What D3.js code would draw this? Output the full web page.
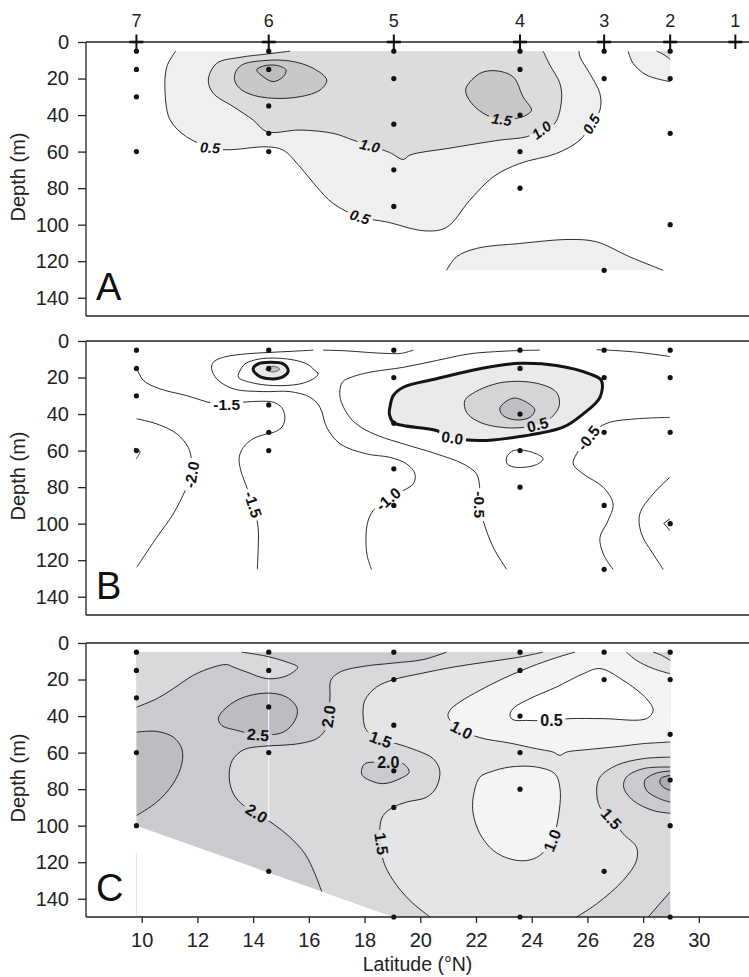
<!DOCTYPE html>
<html><head><meta charset="utf-8">
<script src="https://cdn.jsdelivr.net/npm/d3@7"></script>
<style>
html,body{margin:0;padding:0;background:#fff;}
svg{display:block;font-family:"Liberation Sans",Arial,Helvetica,sans-serif;}
</style></head><body>
<svg id="chart" width="749" height="977"></svg>
<script>
// ---------- stations, ticks, sample depths ----------
const stationNames = ["7","6","5","4","3","2","1"];
const stationLat = [9.81, 14.56, 19.05, 23.58, 26.6, 28.97, 31.31];
const latTicks = [10,12,14,16,18,20,22,24,26,28,30];
const depthTicks = [0,20,40,60,80,100,120,140];
const depthsA = [[5,15,30,60],[5,15,35,50,60],[5,20,45,70,90],[5,15,40,60,80],[5,20,125],[5,20,50,100],[]];
const depthsB = [[5,15,30,60],[5,15,35,50,60],[5,20,45,70,90],[5,15,40,60,80],[5,20,50,90,125],[5,20,50,100],[]];
const depthsC = [[5,15,30,60,100],[5,15,35,60,125],[5,20,45,70,90,150],[5,15,40,60,80,150],[5,20,125],[5,20,50,75,100,150],[]];

// ---------- panel A contours [lat, depth] ----------
const aC05 = [[11.22,5],[10.90,13.5],[10.84,28.1],[11.02,42.7],[11.61,51.9],[12.45,57.6],[13.05,59.0],[14.49,57.4],[15.08,59.2],[15.68,68.3],[16.28,79.3],[16.87,88.4],[17.83,95.8],[18.79,98.5],[20.17,103.4],[20.94,101.5],[21.78,86.6],[22.62,73.8],[23.57,66.5],[24.89,61.0],[25.73,53.7],[26.14,44.9],[26.45,37.3],[26.45,28.3],[26.08,17.2],[25.73,8.1],[25.70,5]];
const aC10 = [[15.33,5],[14.49,6.6],[13.53,8.4],[12.69,11.7],[12.39,20.8],[12.57,28.1],[13.29,35.4],[14.00,42.7],[14.49,49.1],[15.68,48.2],[16.87,50.0],[17.59,53.7],[18.19,56.8],[18.9,60.5],[19.39,64.3],[19.63,61.9],[21.06,58.1],[22.86,53.7],[23.81,51.9],[24.35,48.2],[24.83,44.5],[25.07,31.9],[25.01,22.6],[24.65,12.6],[24.41,5]];
const aC15east = [[21.66,24.5],[22.14,17.2],[22.68,15.7],[23.33,19.0],[23.69,30.0],[23.99,37.3],[23.81,40.0],[23.46,41.8],[22.92,42.4],[22.38,40.0],[21.90,34.5],[21.64,28.1]];
const aC15west = [[13.35,17.2],[13.59,12.6],[14.36,10.2],[15.32,10.4],[16.16,14.4],[16.64,20.8],[16.40,26.3],[15.44,30.5],[14.24,30.0],[13.59,26.3],[13.35,21.7]];
const aC20 = [[14.13,15.3],[14.36,13.2],[14.84,12.8],[15.18,15.3],[15.08,19.0],[14.72,21.7],[14.36,19.0]];
const aCorner05 = [[27.46,5],[27.64,11.7],[28.12,18.1],[28.97,21.7]];
const aCorner10 = [[28.48,5],[28.75,7.0],[28.97,9.5]];
const aDeep05 = [[20.94,125],[21.30,117.6],[22.02,113],[23.57,110.3],[25.37,108.1],[26.33,109.4],[27.52,117.6],[28.72,125]];
const labelsA = [
  {t:"0.5", at:[12.45,57.8], r:3},
  {t:"0.5", at:[17.83,95.8], r:18},
  {t:"1.0", at:[18.19,56.8], r:14},
  {t:"1.5", at:[22.92,42.4], r:8},
  {t:"1.0", at:[24.35,48.2], r:-38},
  {t:"0.5", at:[26.14,44.9], r:-60}
];

// ---------- panel B contours ----------
const bM20 = [[9.82,42.6],[10.54,45.4],[11.26,50.8],[11.67,58.2],[11.79,65.5],[11.79,73.2],[11.56,81.9],[11.13,94.7],[10.54,107.5],[9.82,123.9]];
const bHook = [[9.73,58.7],[9.94,60.4],[9.88,62.7],[9.80,64.5]];
const bM15 = [[9.82,14.7],[10.06,21.6],[10.66,26.2],[11.61,29.9],[12.57,34.2],[13.05,34.8],[13.65,33.5],[14.24,33.0],[14.72,33.5],[15.02,36.3],[15.14,41.7],[15.05,46.8],[14.80,49.6],[14.45,51.0],[14.0,53.5],[13.65,58.2],[13.50,63.7],[13.55,70.5],[13.72,78],[14.0,89.5],[14.18,102.3],[14.18,113.3],[14.15,125]];
const bM10a = [[16.16,5],[15.44,5.6],[14.54,6.3],[13.77,7.0],[12.93,8.9],[12.57,11.6],[12.51,15.2],[12.69,20.7],[13.29,26.2],[14.36,27.7],[15.32,27.7],[16.04,30.8],[16.40,36.3],[16.64,47.2],[17.12,56.3],[18.07,61.8],[18.91,63.7],[19.51,67.3],[19.81,72.8],[19.75,78.2],[19.39,81.9],[18.85,86.5],[18.3,93],[18.1,100],[18.05,110],[18.1,118],[18.25,125]];
const bM10b = [[16.52,5],[17.36,5.4],[18.07,6.2],[18.79,6.8],[19.3,6.8],[19.75,5]];
const bM05west = [[24.29,5],[23.57,5.2],[22.97,5.6],[21.78,7.0],[20.58,10.7],[19.39,14.4],[18.19,17.1],[17.59,19.5],[17.2,22.6],[17.12,30.8],[17.47,41.8],[17.9,47.5],[18.55,52.2],[19.39,56.3],[20.58,61.8],[21.54,67.3],[22.02,72.8],[22.14,81.9],[22.14,89.6],[22.26,98.4],[22.62,113.0],[23.10,125]];
const bM05ring = [[13.53,16.2],[13.71,12.5],[14.24,9.8],[15.20,9.8],[15.92,12.5],[16.22,16.2],[16.34,18.0],[16.16,20.7],[15.68,23.5],[14.72,24.4],[13.89,22.6],[13.47,19.8]];
const bZeroWest = [[14.0,15.2],[14.18,12.5],[14.6,11.6],[15.08,12.5],[15.26,16.2],[15.08,19.5],[14.6,20.7],[14.18,18.9]];
const bCoreWest = [[14.45,15.5],[14.6,14.0],[14.85,14.3],[14.95,15.5],[14.8,16.8],[14.55,16.6]];
const bZero = [[18.91,36.3],[19.03,29.9],[19.39,25.3],[20.58,20.7],[22.14,15.2],[23.57,12.2],[24.89,13.4],[26.08,18.0],[26.5,21.6],[26.45,30.8],[25.85,39.9],[25.13,47.2],[23.57,52.3],[22.14,54.5],[21.15,53.0],[20.58,49.0],[19.39,46.3],[19.03,44.5],[18.89,39.9]];
const b05 = [[21.60,32.6],[22.02,27.5],[22.97,22.6],[24.17,23.1],[24.89,28.1],[24.99,35.3],[24.71,41.8],[24.21,45.8],[23.22,47.6],[22.14,44.5],[21.66,39.0]];
const b10 = [[22.86,36.6],[23.33,31.3],[23.81,33.5],[24.11,37.7],[23.93,41.8],[23.45,43.2],[22.97,40.8]];
const bLoop60 = [[23.10,63.7],[23.28,60.5],[23.57,59.6],[24.17,61.8],[24.41,64.5],[24.17,67.7],[23.46,69.2],[23.12,67.3]];
const bM05east = [[28.96,41.8],[27.76,42.6],[26.80,44.5],[26.3,48.5],[26.03,53.1],[25.61,61.8],[25.49,67.3],[25.85,72.8],[26.57,80.1],[26.92,89.2],[26.74,98.4],[26.45,107.5],[26.57,116.6],[26.92,125]];
const bEast = [[28.96,74.6],[28.36,83.7],[27.88,94.7],[27.94,105.6],[28.36,116.6],[28.72,125]];
const bChevron = [[28.96,97.4],[28.74,99.8],[28.96,103.8]];
const bSurface = [[26.33,4.8],[26.6,4.9],[27.76,6.1],[28.96,8.5]];
const labelsB = [
  {t:"-1.5", at:[13.05,34.8], r:0},
  {t:"-2.0", at:[11.79,73.2], r:-80},
  {t:"-1.5", at:[14.0,89.5], r:72},
  {t:"-1.0", at:[18.85,86.5], r:-40},
  {t:"0.0", at:[21.15,53.0], r:8},
  {t:"0.5", at:[24.21,45.8], r:-14},
  {t:"-0.5", at:[22.14,89.6], r:90},
  {t:"-0.5", at:[26.03,53.1], r:-52}
];

// ---------- panel C contours ----------
const cDomain = [[9.81,5],[28.97,5],[28.97,150],[19.05,150],[9.81,100]];
const cTL20 = [[9.82,35.1],[10.54,30.5],[11.13,25.0],[11.85,17.7],[12.57,13.2],[13.05,11.8],[13.29,13.2],[13.77,15.9],[14.49,19.5],[15.08,18.6],[15.44,15.9],[15.60,13.2],[15.20,10.4],[14.49,7.3],[13.59,5]];
const cMain20 = [[20.94,5],[20.10,9.1],[19.03,11.0],[17.95,12.8],[17.12,15.9],[16.79,20.4],[16.76,29.6],[16.70,40.2],[16.58,47.8],[16.28,52.4],[15.68,55.0],[15.0,56.0],[14.3,56.6],[13.65,58.5],[13.25,64.3],[13.14,73.4],[13.29,82.5],[13.65,88.9],[14.13,93.2],[14.72,99.0],[15.32,106.3],[15.86,115.4],[16.22,126.4],[16.46,136.0]];
const c15west = [[24.41,5],[23.46,8.0],[22.38,10.4],[21.18,13.2],[19.99,16.8],[19.03,20.1],[18.43,24.1],[18.01,31.4],[17.95,40.5],[18.07,47.8],[18.58,52.8],[19.15,55.1],[19.87,58.8],[20.46,63.3],[20.70,69.8],[20.58,78.9],[20.23,84.4],[19.51,87.1],[19.03,89.9],[18.67,94.4],[18.55,100.8],[18.61,109.9],[18.67,119.1],[19.03,130.0],[19.63,141.0],[20.35,150]];
const c15east = [[25.61,150],[26.33,142.8],[27.28,130.0],[27.76,119.1],[27.76,111.8],[27.28,104.4],[26.86,96.2],[26.45,89.9],[26.33,80.7],[26.45,73.4],[27.04,67.0],[28.00,63.3],[28.97,62.5]];
const cIsland20 = [[17.89,69.8],[18.01,66.1],[18.43,65.2],[18.85,65.3],[19.39,66.1],[19.60,70.7],[19.27,74.3],[18.67,77.0],[18.19,75.2],[17.92,72.5]];
const c10 = [[25.55,5],[24.89,8.0],[23.93,13.2],[22.97,19.5],[22.14,25.9],[21.42,32.3],[21.06,36.9],[21.00,40.5],[21.48,47.5],[22.14,51.8],[23.22,54.8],[24.17,57.9],[24.77,59.7],[25.01,61.5],[25.25,59.7],[25.97,58.4],[27.16,56.6],[28.00,55.1],[28.97,54.2]];
const c05 = [[23.22,39.6],[23.33,35.9],[23.93,30.5],[24.89,24.1],[25.85,16.8],[26.45,14.0],[27.28,20.4],[28.12,30.5],[28.36,36.9],[28.12,41.4],[26.57,41.4],[25.37,41.4],[24.71,42.4],[23.81,42.4],[23.33,42.0]];
const c10loop = [[22.14,73.4],[22.50,70.7],[23.22,67.9],[24.17,67.9],[24.83,71.6],[25.01,78.9],[24.99,91.7],[24.73,108.1],[24.29,116.3],[23.81,119.1],[23.22,118.2],[22.62,113.6],[22.14,104.4],[21.90,93.5],[21.90,84.4]];
const c20east = [[28.97,67.9],[28.0,68.8],[27.40,73.4],[27.30,78.9],[27.64,86.2],[28.36,91.7],[28.97,93.2]];
const c25east = [[28.97,70.1],[28.48,71.2],[28.06,75.2],[28.12,80.7],[28.6,85.3],[28.97,87.1]];
const c30east = [[28.97,72.5],[28.66,73.8],[28.60,76.2],[28.72,78.9],[28.97,80.7]];
const cCornerDeep = [[28.18,150],[28.96,136.4]];
const cCorner10 = [[27.40,5],[27.76,9.5],[28.36,14.0],[28.97,16.8]];
const cCorner15 = [[28.36,5],[28.66,6.7],[28.97,9.5]];
const c25mid = [[12.75,41.4],[12.93,36.9],[13.53,30.5],[14.49,27.4],[15.20,29.6],[15.58,35.9],[15.50,42.4],[15.08,48.8],[14.18,50.2],[13.41,47.8],[12.87,45.1]];
const c25west = [[9.82,48.8],[10.54,48.4],[11.13,51.5],[11.44,57.9],[11.44,66.1],[11.13,77.0],[10.54,87.1],[9.82,94.4]];
const labelsC = [
  {t:"2.0", at:[16.70,40.2], r:-82},
  {t:"2.5", at:[14.18,50.2], r:5},
  {t:"2.0", at:[14.13,93.2], r:32},
  {t:"1.5", at:[18.58,52.8], r:20},
  {t:"2.0", at:[18.85,65.5], r:0},
  {t:"1.5", at:[18.61,109.9], r:82},
  {t:"1.0", at:[21.48,47.5], r:28},
  {t:"0.5", at:[24.71,42.5], r:0},
  {t:"1.0", at:[24.73,108.1], r:-68},
  {t:"1.5", at:[26.86,96.2], r:48}
];

// ---------- layout ----------
const W = 749, H = 977;
const svg = d3.select("#chart");
const defs = svg.append("defs");
const x = d3.scaleLinear().domain([8, 31.8]).range([86, W]);
const panelH = 274;
const FONT = 20;

const smooth = d3.line().curve(d3.curveCatmullRom.alpha(0.5));
const smoothClosed = d3.line().curve(d3.curveCatmullRomClosed.alpha(0.5));

function toPx(pts, y) { return pts.map(p => [x(p[0]), y(p[1])]); }

// builds a closed outline from smooth contour pieces and straight edge pieces
function regionPath(pieces, y) {
  let s = "";
  pieces.forEach(pc => {
    const pts = toPx(pc.p, y);
    if (pc.s) {
      const d = smooth(pts);
      s += s ? "L" + d.slice(1) : d;
    } else {
      pts.forEach(q => { s += (s ? "L" : "M") + q[0] + "," + q[1]; });
    }
  });
  return s + "Z";
}

function drawPanel(cfg) {
  const y = d3.scaleLinear().domain([0, 150]).range([cfg.top, cfg.top + panelH]);
  const g = svg.append("g");

  // filled bands
  const fills = g.append("g");
  cfg.fills.forEach(f => {
    const d = f.loop ? smoothClosed(toPx(f.loop, y)) + "Z" : regionPath(f.pieces, y);
    fills.append("path").attr("d", d).attr("fill", f.c).attr("stroke", "none");
  });

  (cfg.extraLines || []).forEach(l => {
    g.append("line").attr("x1", x(l.lat)).attr("x2", x(l.lat))
      .attr("y1", y(l.d0)).attr("y2", y(l.d1))
      .attr("stroke", l.c).attr("stroke-width", 1);
  });

  // contour lines, masked under the value labels
  const mask = defs.append("mask").attr("id", "mask" + cfg.key)
    .attr("maskUnits", "userSpaceOnUse").attr("x", 0).attr("y", 0).attr("width", W).attr("height", H);
  mask.append("rect").attr("width", W).attr("height", H).attr("fill", "#fff");
  const lines = g.append("g").attr("mask", "url(#mask" + cfg.key + ")")
    .attr("fill", "none").attr("stroke", "#151515").attr("stroke-linejoin", "round");
  cfg.lines.forEach(l => {
    let d;
    if (l.closed) d = smoothClosed(toPx(l.p, y)) + "Z";
    else if (l.straight) d = d3.line()(toPx(l.p, y));
    else d = smooth(toPx(l.p, y));
    lines.append("path").attr("d", d).attr("stroke-width", l.w || 0.9);
  });

  // labels
  const lab = g.append("g");
  cfg.labels.forEach(L => {
    const tx = x(L.at[0]), ty = y(L.at[1]);
    const t = lab.append("text")
      .attr("transform", `translate(${tx},${ty}) rotate(${L.r})`)
      .attr("text-anchor", "middle").attr("dy", "0.36em")
      .attr("font-size", cfg.labelSize).attr("font-weight", "bold")
      .attr("font-style", cfg.italic ? "italic" : "normal")
      .attr("fill", "#111").text(L.t);
    const w = t.node().getComputedTextLength();
    mask.append("rect")
      .attr("transform", `translate(${tx},${ty}) rotate(${L.r})`)
      .attr("x", -w / 2 - 3).attr("y", -cfg.labelSize * 0.42)
      .attr("width", w + 6).attr("height", cfg.labelSize * 0.84).attr("fill", "#000");
  });

  // sample points
  const pts = [];
  cfg.depths.forEach((ds, i) => ds.forEach(dd => pts.push([stationLat[i], dd])));
  g.append("g").selectAll("circle").data(pts).join("circle")
    .attr("cx", d => x(d[0])).attr("cy", d => y(d[1])).attr("r", 2.6).attr("fill", "#111");

  // frame
  const frame = g.append("g").attr("stroke", "#222").attr("stroke-width", 1.3);
  frame.append("line").attr("x1", x(8)).attr("x2", W).attr("y1", y(0)).attr("y2", y(0));
  frame.append("line").attr("x1", x(8)).attr("x2", W).attr("y1", y(150)).attr("y2", y(150));
  frame.append("line").attr("x1", x(8)).attr("x2", x(8)).attr("y1", y(0)).attr("y2", y(150));

  const ax = g.append("g").attr("transform", `translate(${x(8)},0)`)
    .call(d3.axisLeft(y).tickValues(depthTicks).tickSize(8).tickPadding(9));
  ax.select(".domain").remove();
  ax.selectAll("line").attr("stroke", "#222").attr("stroke-width", 1.3);
  ax.selectAll("text").attr("font-size", FONT).attr("fill", "#222")
    .attr("font-family", "'Liberation Sans',Arial,sans-serif");

  g.append("text").attr("transform", `translate(25,${cfg.top + 135}) rotate(-90)`)
    .attr("text-anchor", "middle").attr("font-size", FONT).attr("fill", "#222").text("Depth (m)");

  g.append("text").attr("x", 96).attr("y", cfg.top + 258)
    .attr("font-size", 38).attr("fill", "#111").text(cfg.key);
  return y;
}

// ---------- panel A ----------
drawPanel({
  key: "A", top: 42, labelSize: 14.5, italic: true, depths: depthsA,
  fills: [
    {c: "#efefef", pieces: [{p: aC05, s: true}]},
    {c: "#dcdcdd", pieces: [{p: aC10, s: true}]},
    {c: "#efefef", pieces: [{p: aCorner05, s: true}, {p: [[28.97,5]]}]},
    {c: "#dcdcdd", pieces: [{p: aCorner10, s: true}, {p: [[28.97,5]]}]},
    {c: "#efefef", pieces: [{p: aDeep05, s: true}]},
    {c: "#c8c8cb", loop: aC15east},
    {c: "#c8c8cb", loop: aC15west},
    {c: "#bdbdc0", loop: aC20}
  ],
  lines: [
    {p: aC05}, {p: aC10}, {p: aC15east, closed: true}, {p: aC15west, closed: true},
    {p: aC20, closed: true}, {p: aCorner05}, {p: aCorner10}, {p: aDeep05}
  ],
  labels: labelsA
});

// station axis on top of panel A
const stationAxis = svg.append("g");
stationLat.forEach((la, i) => {
  stationAxis.append("line").attr("x1", x(la)).attr("x2", x(la)).attr("y1", 34.5).attr("y2", 49)
    .attr("stroke", "#111").attr("stroke-width", 2);
  stationAxis.append("line").attr("x1", x(la) - 7).attr("x2", x(la) + 7).attr("y1", 42).attr("y2", 42)
    .attr("stroke", "#111").attr("stroke-width", 2.6);
  stationAxis.append("text").attr("x", x(la)).attr("y", 27).attr("text-anchor", "middle")
    .attr("font-size", 18).attr("fill", "#222").text(stationNames[i]);
});

// ---------- panel B ----------
drawPanel({
  key: "B", top: 341, labelSize: 15.5, italic: false, depths: depthsB,
  fills: [
    {c: "#e9eaea", loop: bZero},
    {c: "#d4d5d7", loop: b05},
    {c: "#bebfc2", loop: b10},
    {c: "#e8e8e8", loop: bZeroWest},
    {c: "#c4c5c8", loop: bCoreWest}
  ],
  lines: [
    {p: bM20}, {p: bHook}, {p: bM15}, {p: bM10a}, {p: bM10b}, {p: bM05west},
    {p: bM05ring, closed: true}, {p: bZeroWest, closed: true, w: 3},
    {p: bCoreWest, closed: true, w: 0.6},
    {p: bZero, closed: true, w: 3}, {p: b05, closed: true}, {p: b10, closed: true},
    {p: bLoop60, closed: true}, {p: bM05east}, {p: bEast},
    {p: bChevron, straight: true}, {p: bSurface}
  ],
  labels: labelsB
});

// ---------- panel C ----------
const yC = drawPanel({
  key: "C", top: 643, labelSize: 16, italic: false, depths: depthsC,
  fills: [
    {c: "#cacbce", pieces: [{p: cDomain}]},
    {c: "#d8d9db", pieces: [{p: cTL20, s: true}, {p: [[9.81,5]]}]},
    {c: "#d8d9db", pieces: [{p: cMain20, s: true}, {p: [[19.05,150],[28.97,150],[28.97,5]]}]},
    {c: "#e4e5e7", pieces: [{p: c15west, s: true}, {p: c15east, s: true}, {p: [[28.97,5]]}]},
    {c: "#f3f4f5", pieces: [{p: c10, s: true}, {p: [[28.97,5]]}]},
    {c: "#e4e5e7", pieces: [{p: cCorner10, s: true}, {p: [[28.97,5]]}]},
    {c: "#d8d9db", pieces: [{p: cCorner15, s: true}, {p: [[28.97,5]]}]},
    {c: "#ffffff", loop: c05},
    {c: "#f3f4f5", loop: c10loop},
    {c: "#cacbce", loop: cIsland20},
    {c: "#bcbdc0", loop: c25mid},
    {c: "#bcbdc0", pieces: [{p: c25west, s: true}]},
    {c: "#cacbce", pieces: [{p: c20east, s: true}]},
    {c: "#bcbdc0", pieces: [{p: c25east, s: true}]},
    {c: "#abacaf", pieces: [{p: c30east, s: true}]},
    {c: "#cacbce", pieces: [{p: cCornerDeep}, {p: [[28.97,150]]}]}
  ],
  extraLines: [
    {lat: 14.56, d0: 5, d1: 97, c: "#ffffff"},
    {lat: 9.81, d0: 115, d1: 150, c: "#e2e2e2"}
  ],
  lines: [
    {p: cTL20}, {p: cMain20}, {p: c15west}, {p: c15east}, {p: cIsland20, closed: true},
    {p: c10}, {p: c05, closed: true}, {p: c10loop, closed: true},
    {p: c20east}, {p: c25east}, {p: c30east}, {p: cCornerDeep, straight: true},
    {p: cCorner10}, {p: cCorner15}, {p: c25mid, closed: true}, {p: c25west}
  ],
  labels: labelsC
});

// latitude axis
const xa = svg.append("g").attr("transform", `translate(0,${yC(150)})`)
  .call(d3.axisBottom(x).tickValues(latTicks).tickSize(6).tickPadding(10));
xa.select(".domain").remove();
xa.selectAll("line").attr("stroke", "#222").attr("stroke-width", 1.3);
xa.selectAll("text").attr("font-size", FONT).attr("fill", "#222")
  .attr("font-family", "'Liberation Sans',Arial,sans-serif");
svg.append("text").attr("x", (x(8) + W) / 2).attr("y", 971).attr("text-anchor", "middle")
  .attr("font-size", 19.5).attr("fill", "#222").text("Latitude (°N)");
</script>
</body></html>
